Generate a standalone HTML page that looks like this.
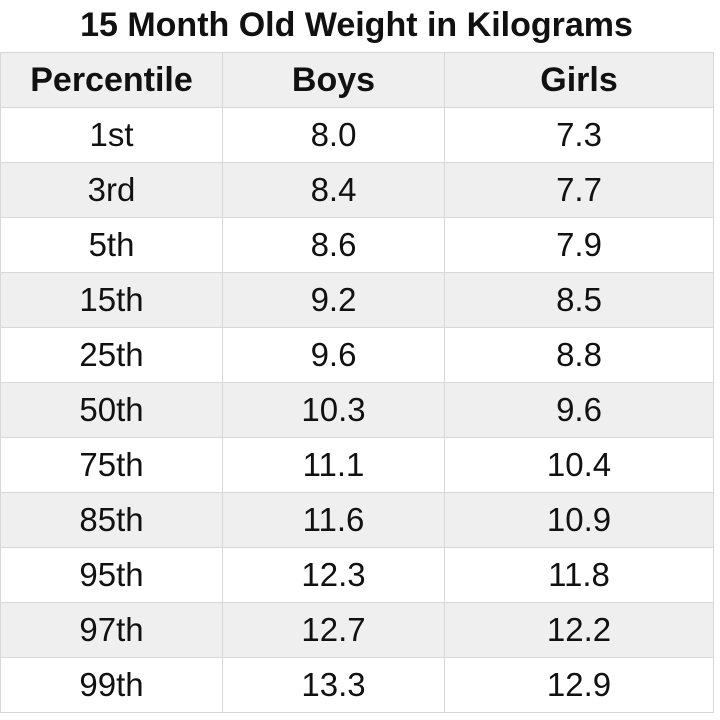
<!DOCTYPE html>
<html><head><style>
body{margin:0;width:720px;height:720px;background:#fff;font-family:"Liberation Sans",Arial,sans-serif;color:#111;overflow:hidden;position:relative}
.title{position:absolute;top:0;left:0;width:713px;height:52px;text-align:center;font-weight:bold;font-size:34px;line-height:50px}
table{position:absolute;top:52px;left:0;border-collapse:collapse}
td{height:54px;border:1.5px solid #d8d8d8;text-align:center;font-size:33px;padding:0}
tr.g td{background:#efefef}
tr.h td{font-weight:bold;font-size:34px}
</style></head><body>
<div class="title">15 Month Old Weight in Kilograms</div>
<table>
<colgroup><col style="width:222px"><col style="width:222px"><col style="width:269px"></colgroup>
<tr class="h g"><td>Percentile</td><td>Boys</td><td>Girls</td></tr>
<tr><td>1st</td><td>8.0</td><td>7.3</td></tr>
<tr class="g"><td>3rd</td><td>8.4</td><td>7.7</td></tr>
<tr><td>5th</td><td>8.6</td><td>7.9</td></tr>
<tr class="g"><td>15th</td><td>9.2</td><td>8.5</td></tr>
<tr><td>25th</td><td>9.6</td><td>8.8</td></tr>
<tr class="g"><td>50th</td><td>10.3</td><td>9.6</td></tr>
<tr><td>75th</td><td>11.1</td><td>10.4</td></tr>
<tr class="g"><td>85th</td><td>11.6</td><td>10.9</td></tr>
<tr><td>95th</td><td>12.3</td><td>11.8</td></tr>
<tr class="g"><td>97th</td><td>12.7</td><td>12.2</td></tr>
<tr><td>99th</td><td>13.3</td><td>12.9</td></tr>
</table>
</body></html>
